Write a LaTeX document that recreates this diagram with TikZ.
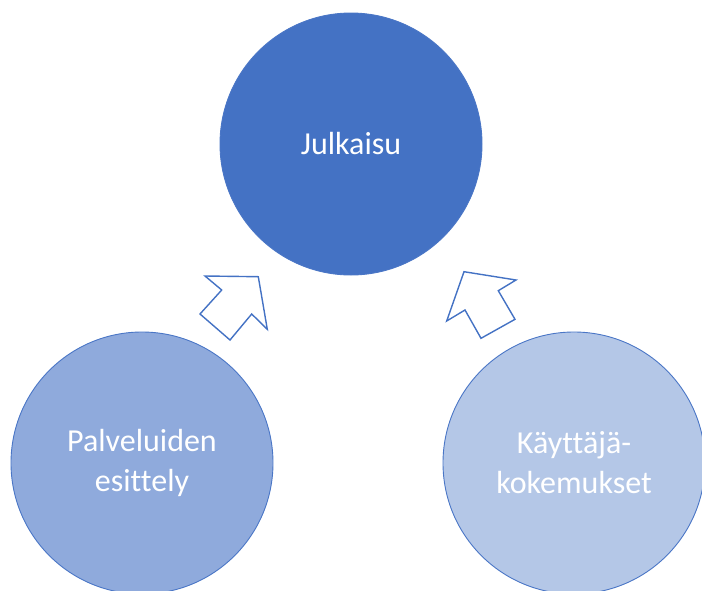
\documentclass[tikz,border=0pt]{standalone}
\usepackage{fontspec}
\setmainfont[Ligatures=NoCommon]{Carlito}
\definecolor{darkblue}{HTML}{4472C4}
\definecolor{midblue}{HTML}{8FAADC}
\definecolor{paleblue}{HTML}{B4C7E7}
\definecolor{rimblue}{HTML}{4A76C6}
\tikzset{
  bubble/.style={circle, minimum size=262pt, inner sep=0pt, draw=rimblue, line width=0.9pt,
    text=white, align=center, font=\fontsize{32}{40}\selectfont},
  blockarrow/.style={draw=darkblue, fill=white, line width=1.4pt, line join=miter}
}
\begin{document}
\begin{tikzpicture}[x=1pt,y=-1pt]
  \useasboundingbox (0,0) rectangle (702,590);
  \clip (0,0) rectangle (702,590);
  \node[bubble, fill=darkblue] (pub) at (351,144) {Julkaisu};
  \node[bubble, fill=midblue] (serv) at (142,463) {Palveluiden\\esittely};
  \node[bubble, fill=paleblue] (user) at (574,463) {Käyttäjä-\\kokemukset};
  % block arrows pointing up towards the top circle
  \draw[blockarrow] (258.3,276.7) -- (267.3,329.3) -- (251.7,314) -- (230,340)
    -- (200,314) -- (221.7,290) -- (205,276) -- cycle;
  \draw[blockarrow] (464,271.7) -- (516,280) -- (498.3,290.7) -- (515,319.3)
    -- (481,338.3) -- (465,310) -- (446.7,321) -- cycle;
\end{tikzpicture}
\end{document}
